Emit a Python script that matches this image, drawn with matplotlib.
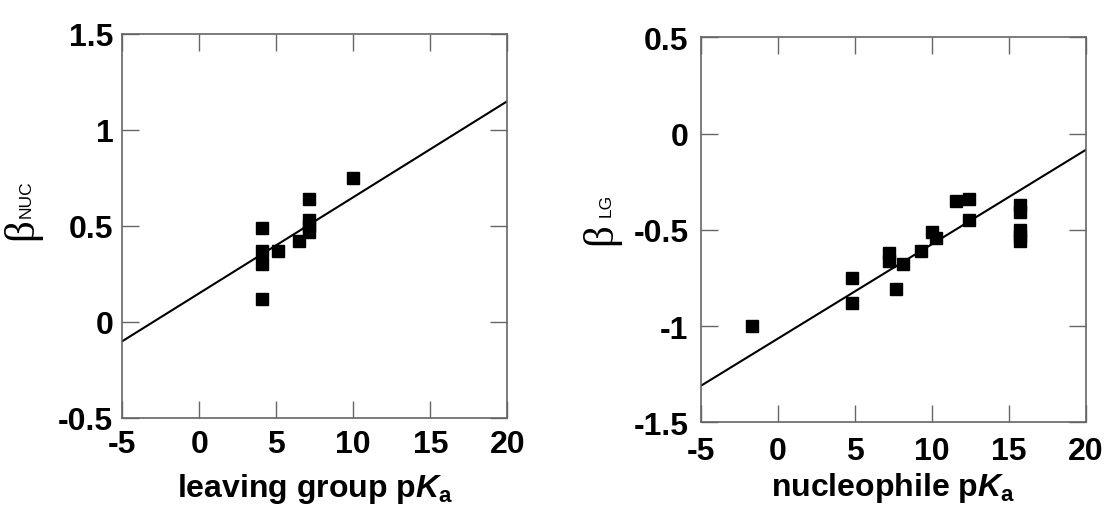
import matplotlib
matplotlib.use('Agg')
import matplotlib.pyplot as plt
import numpy as np

plt.rcParams.update({
    'font.family': ['Liberation Sans', 'DejaVu Sans'],
    'mathtext.fontset': 'custom',
    'mathtext.rm': 'Liberation Sans',
    'mathtext.bf': 'Liberation Sans:bold',
    'mathtext.bfit': 'Liberation Sans:italic:bold',
    'mathtext.default': 'regular',
})

# left panel: beta_NUC vs leaving group pKa
lg_pka = [4.1, 4.1, 4.1, 4.1, 5.1, 6.5, 7.1, 7.1, 7.1, 7.1, 10.0]
beta_nuc = [0.49, 0.37, 0.30, 0.12, 0.37, 0.42, 0.64, 0.53, 0.50, 0.47, 0.75]
fit_nuc = (0.05, 0.15)  # slope, intercept

# right panel: beta_LG vs nucleophile pKa
nuc_pka = [-1.7, 4.8, 4.8, 7.2, 7.2, 8.1, 7.7, 9.3, 10.0, 10.3,
           11.6, 12.4, 12.4, 15.7, 15.7, 15.7, 15.7, 15.7]
beta_lg = [-1.0, -0.75, -0.88, -0.62, -0.66, -0.68, -0.81, -0.61, -0.51, -0.54,
           -0.35, -0.34, -0.45, -0.37, -0.41, -0.50, -0.53, -0.56]
fit_lg = (0.049, -1.065)

x_ticks = [-5, 0, 5, 10, 15, 20]
C_FRAME = '#666666'

fig = plt.figure(figsize=(11.05, 5.06), dpi=100)
ax1 = fig.add_axes([122.3/1105, 1 - 419/506, 385/1105, 384/506])
ax2 = fig.add_axes([701/1105, 1 - 423.3/506, 384.7/1105, 385/506])


def panel(ax, xs, ys, fit, ylim, yticks, sub, xlabel, fs, padx, pady,
          xlab_y, beta_xy, sub_xy):
    xl = np.array([-5, 20])
    ax.plot(xl, fit[0] * xl + fit[1], color='black', lw=1.5, zorder=2)
    ax.plot(xs, ys, 's', color='black', ms=8, zorder=3, clip_on=False)
    ax.set_xlim(-5, 20)
    ax.set_ylim(*ylim)
    ax.set_xticks(x_ticks)
    ax.set_yticks(yticks)
    ax.set_xticklabels([f'{t:g}' for t in x_ticks])
    ax.set_yticklabels([f'{t:g}' for t in yticks])
    for sp in ax.spines.values():
        sp.set_color(C_FRAME)
        sp.set_linewidth(1.2)
    ax.tick_params(direction='in', length=12, width=1, color=C_FRAME,
                   top=True, right=True, labelsize=fs)
    ax.tick_params(axis='x', pad=padx)
    ax.tick_params(axis='y', pad=pady)
    for lab in ax.get_xticklabels() + ax.get_yticklabels():
        lab.set_fontweight('bold')
    ax.set_xlabel(xlabel, fontsize=23, fontweight='bold', va='top')
    ax.xaxis.set_label_coords(0.5, xlab_y)
    # y label: big beta + small subscript
    ax.text(*beta_xy, 'β', transform=ax.transAxes, rotation=90,
            ha='center', va='center', fontsize=31,
            family=['Liberation Serif', 'DejaVu Serif'])
    ax.text(*sub_xy, sub, transform=ax.transAxes, rotation=90,
            ha='center', va='center', fontsize=12.5)


panel(ax1, lg_pka, beta_nuc, fit_nuc, (-0.5, 1.5), [-0.5, 0, 0.5, 1, 1.5],
      'NUC', r'leaving group p$\mathbfit{K}_{a}$', 23, 8, 6.5, -0.137,
      (-0.262, 0.495), (-0.250, 0.572))
panel(ax2, nuc_pka, beta_lg, fit_lg, (-1.5, 0.5), [-1.5, -1, -0.5, 0, 0.5],
      'LG', r'nucleophile p$\mathbfit{K}_{a}$', 23, 10, 9, -0.124,
      (-0.260, 0.492), (-0.247, 0.565))

fig.savefig('out.png', dpi=100, facecolor='white')
